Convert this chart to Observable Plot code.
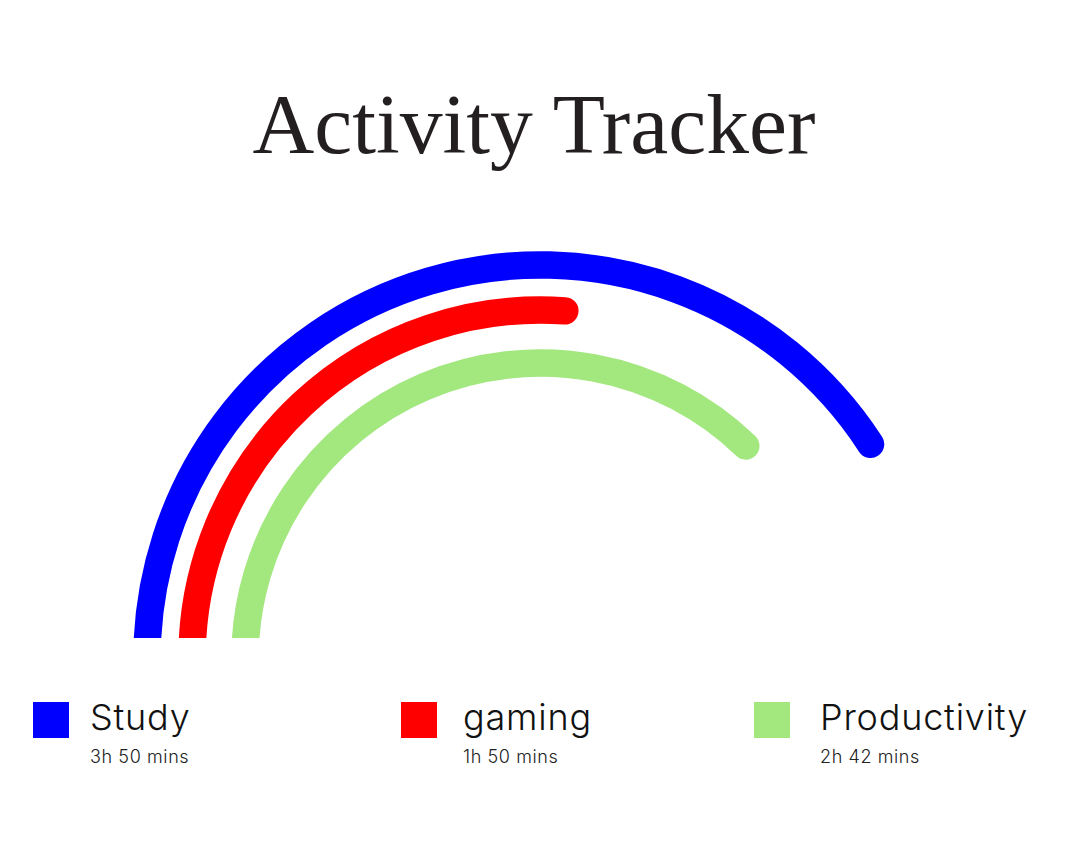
<!DOCTYPE html>
<html>
<head>
<meta charset="utf-8">
<script src="https://cdn.jsdelivr.net/npm/d3@7"></script>
<script src="https://cdn.jsdelivr.net/npm/@observablehq/plot@0.6"></script>
<style>
  html, body { margin: 0; padding: 0; background: #fff; }
  #page { position: relative; width: 1080px; height: 846px; overflow: hidden; }
  #title { position: absolute; left: -6px; width: 1080px; top: 82px; text-align: center;
    font-family: "Liberation Serif", "DejaVu Serif", serif; font-size: 85.5px; line-height: 85px;
    color: #231f20; font-weight: 400; }
  #chart { position: absolute; left: 0; top: 200px; }
  .item { position: absolute; top: 698px; font-family: Inter, Lato, "Noto Sans", sans-serif; color: #111; }
  .swatch { position: absolute; left: 0; top: 4px; width: 36px; height: 36px; }
  .name { position: absolute; top: 1px; font-size: 36px; line-height: 36px; font-weight: 300; letter-spacing: 0.8px; white-space: nowrap; }
  .dur { position: absolute; top: 49.5px; font-size: 18px; line-height: 18px; font-weight: 300; letter-spacing: 0.6px; white-space: nowrap; color: #222; }
</style>
</head>
<body>
<div id="page">
  <div id="title">Activity Tracker</div>
  <div id="chart"></div>
</div>
<script>
// ---- data ----
const categories = ["Study", "gaming", "Productivity"];
const durations = ["3h 50 mins", "1h 50 mins", "2h 42 mins"];
const minutes = [230, 110, 162];
const sweepDegrees = [147, 94, 134];   // arc extent out of a 180° half circle
const colors = ["#0000ff", "#ff0000", "#a3e77f"];

// ---- layout ----
const ringRadius = [393.5, 348.5, 295.5];
const legendLeft = [33, 401, 754];
const legendTextOffset = [57, 62, 66];

const rows = categories.map((name, i) => {
  const a = (180 - sweepDegrees[i]) * Math.PI / 180;
  const r = ringRadius[i];
  return {
    name, minutes: minutes[i], duration: durations[i], sweep: sweepDegrees[i],
    x1: -r, y1: 0, x2: r * Math.cos(a), y2: r * Math.sin(a)
  };
});

const chart = Plot.plot({
  width: 1080,
  height: 438,
  margin: 0,
  x: { domain: [-540, 540], axis: null },
  y: { domain: [20, 458], axis: null },
  color: { domain: categories, range: colors },
  marks: [
    ...rows.map(d => Plot.arrow([d], {
      x1: "x1", y1: "y1", x2: "x2", y2: "y2",
      bend: d.sweep / 2,
      headLength: 0,
      stroke: "name",
      strokeWidth: 27.5,
      strokeLinecap: "round",
      clip: true
    }))
  ]
});
document.getElementById("chart").appendChild(chart);

const page = d3.select("#page");
rows.forEach((d, i) => {
  const item = page.append("div").attr("class", "item").style("left", legendLeft[i] + "px");
  item.append("div").attr("class", "swatch").style("background", colors[i]);
  item.append("div").attr("class", "name").style("left", legendTextOffset[i] + "px").text(d.name);
  item.append("div").attr("class", "dur").style("left", legendTextOffset[i] + "px").text(d.duration);
});
</script>
</body>
</html>
